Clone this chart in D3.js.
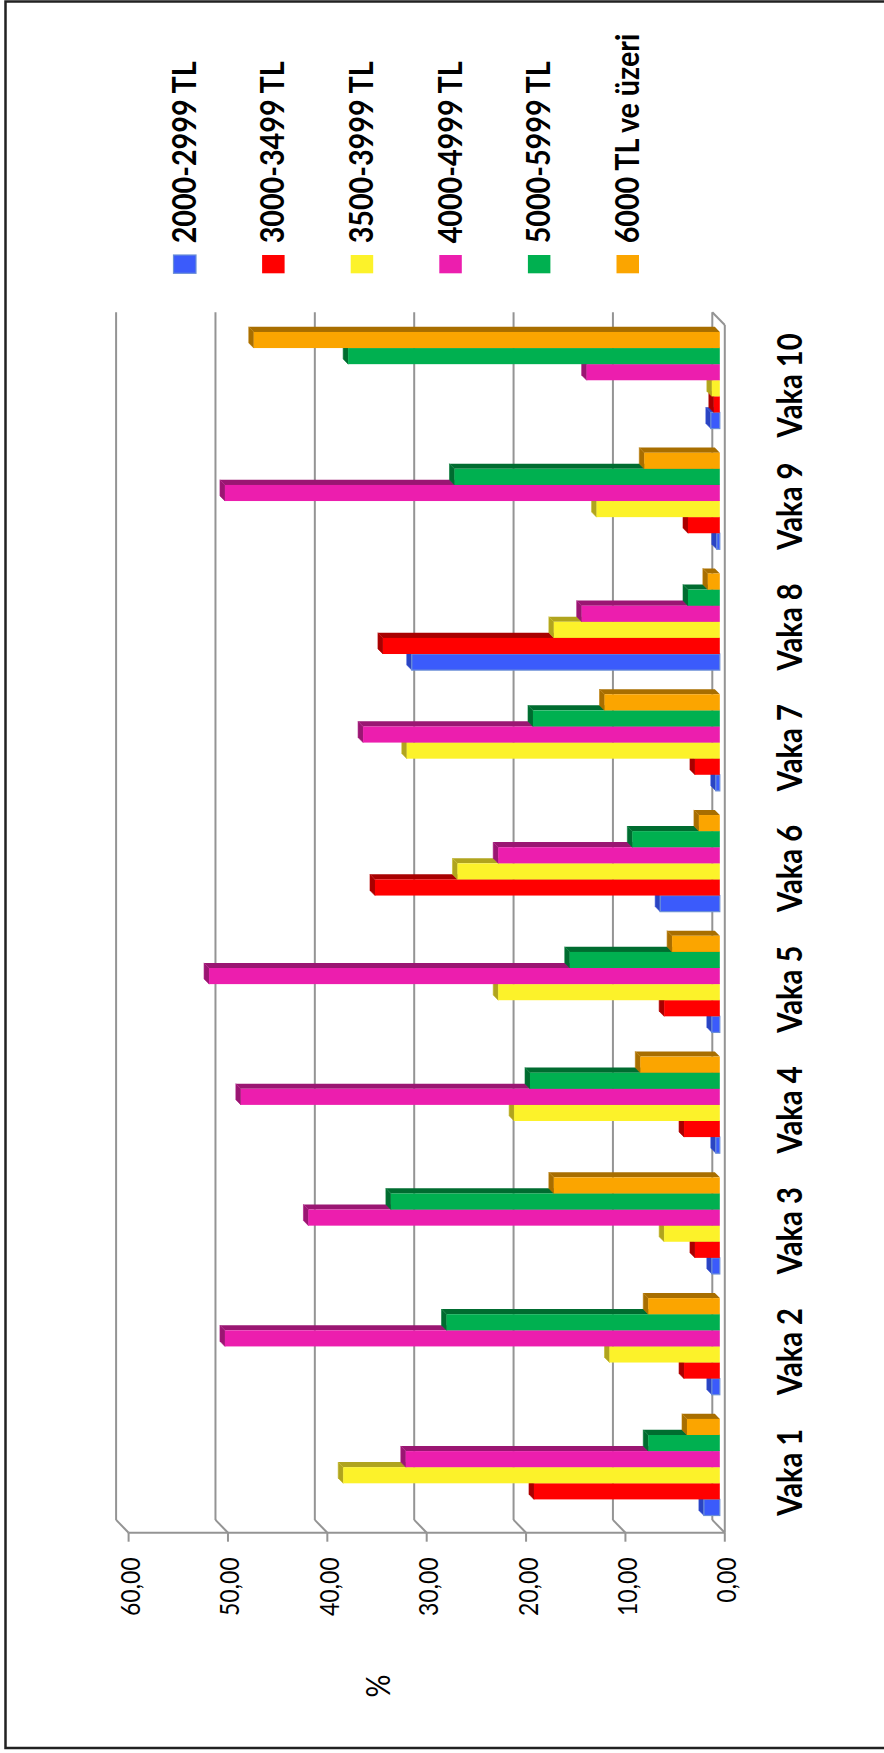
<!DOCTYPE html>
<html>
<head>
<meta charset="utf-8">
<script src="https://cdn.jsdelivr.net/npm/d3@7"></script>
<style>
  html, body { margin: 0; padding: 0; background: #ffffff; }
  svg { display: block; }
  text { font-family: Lato, "Open Sans", "DejaVu Sans", sans-serif; fill: #000; }
</style>
</head>
<body>
<svg id="chart" width="884" height="1753"></svg>
<script>
// ---- data -------------------------------------------------------------
const categories = ["Vaka 1", "Vaka 2", "Vaka 3", "Vaka 4", "Vaka 5",
                    "Vaka 6", "Vaka 7", "Vaka 8", "Vaka 9", "Vaka 10"];

const seriesNames = ["2000-2999 TL", "3000-3499 TL", "3500-3999 TL",
                     "4000-4999 TL", "5000-5999 TL", "6000 TL ve üzeri"];

const inc2000 = [1.6, 0.8, 0.8, 0.4, 0.8, 6.0, 0.4, 31.0, 0.3, 0.9];
const inc3000 = [18.7, 3.6, 2.5, 3.6, 5.6, 34.7, 2.5, 33.9, 3.2, 0.6];
const inc3500 = [37.9, 11.1, 5.6, 20.7, 22.3, 26.4, 31.5, 16.7, 12.4, 0.8];
const inc4000 = [31.6, 49.8, 41.4, 48.2, 51.4, 22.3, 35.9, 13.9, 49.8, 13.4];
const inc5000 = [7.2, 27.5, 33.1, 19.1, 15.1, 8.8, 18.8, 3.2, 26.7, 37.4];
const inc6000 = [3.3, 7.2, 16.7, 8.0, 4.8, 2.1, 11.6, 1.2, 7.6, 46.9];

const seriesValues = [inc2000, inc3000, inc3500, inc4000, inc5000, inc6000];

const yTicks = [0, 10, 20, 30, 40, 50, 60];
const yTickLabels = ["0,00", "10,00", "20,00", "30,00", "40,00", "50,00", "60,00"];
const axisTitle = "%";

// ---- styling ----------------------------------------------------------
const faceColors = ["#3b5bfb", "#ff0000", "#fcf22a", "#ec1eae", "#00b050", "#fba500"];
const sideColors = ["#2a44c2", "#a80000", "#b0a41e", "#9a1672", "#006c30", "#a86e00"];
const edgeColors = ["#6b8fd6", "none", "none", "none", "none", "none"];
const legendColors = ["#3b5bfb", "#ff0000", "#fcf22a", "#ec1eae", "#00b050", "#fba500"];

const gridColor = "#949494";
const SQ = 0.87;          // horizontal squeeze applied to every label

// ---- layout -----------------------------------------------------------
const W = 884, H = 1753;
const svg = d3.select("#chart");

// outer frame
svg.append("rect")
  .attr("x", 5.5).attr("y", 1.5)
  .attr("width", W + 10).attr("height", H - 6.5)
  .attr("fill", "none").attr("stroke", "#222").attr("stroke-width", 2.5);

// The chart is built as an upright column chart (H wide, W tall)
// and then turned a quarter turn counter-clockwise.
const g = svg.append("g").attr("transform", `translate(0,${H}) rotate(-90)`);

const plot = { left: 220.3, right: 1428, top: 128.6, bottom: 724.8 };
const depth = { du: 12.8, dv: -12.5 };   // oblique offset of the back wall
const barFront = 0.4, barBack = 0.8;      // bar slab position inside the depth

const x = d3.scaleBand().domain(categories)
  .range([plot.left, plot.right]).paddingInner(0.2).paddingOuter(0.1);
const xs = d3.scaleBand().domain(d3.range(seriesNames.length))
  .range([0, x.bandwidth()]).padding(0);
const y = d3.scaleLinear().domain([0, 60]).range([plot.bottom, plot.top]);

const pts = arr => arr.map(p => p.join(",")).join(" ");

// ---- walls, gridlines and axis -----------------------------------------
const walls = g.append("g").attr("fill", "none")
  .attr("stroke", gridColor).attr("stroke-width", 2);

// back wall gridlines
walls.selectAll("line.grid").data(yTicks).join("line")
  .attr("class", "grid")
  .attr("x1", plot.left + depth.du).attr("x2", plot.right + depth.du)
  .attr("y1", d => y(d) + depth.dv).attr("y2", d => y(d) + depth.dv);

// side wall diagonals
walls.selectAll("line.side").data(yTicks).join("line")
  .attr("class", "side")
  .attr("x1", plot.left).attr("x2", plot.left + depth.du)
  .attr("y1", d => y(d)).attr("y2", d => y(d) + depth.dv);

// value axis line and tick marks
walls.append("line")
  .attr("x1", plot.left).attr("x2", plot.left)
  .attr("y1", y(60)).attr("y2", y(0));
walls.selectAll("line.tick").data(yTicks).join("line")
  .attr("class", "tick")
  .attr("x1", plot.left - 9).attr("x2", plot.left)
  .attr("y1", d => y(d)).attr("y2", d => y(d));

// floor front edge and its far corner
walls.append("line")
  .attr("x1", plot.left).attr("x2", plot.right)
  .attr("y1", y(0)).attr("y2", y(0));
walls.append("line")
  .attr("x1", plot.right).attr("x2", plot.right + depth.du)
  .attr("y1", y(0)).attr("y2", y(0) + depth.dv);

// ---- bars ---------------------------------------------------------------
const bdu = (barBack - barFront) * depth.du;
const bdv = (barBack - barFront) * depth.dv;

const bars = [];
categories.forEach((c, ci) => {
  seriesValues.forEach((vals, si) => {
    bars.push({ cat: c, s: si, value: vals[ci] });
  });
});

const barG = g.append("g");
bars.forEach(b => {
  const u0 = x(b.cat) + xs(b.s) + barFront * depth.du;
  const u1 = u0 + xs.bandwidth();
  const vTop = y(b.value) + barFront * depth.dv;
  const vBase = y(0) + barFront * depth.dv;
  const grp = barG.append("g").attr("class", "bar");

  // right side face
  grp.append("polygon")
    .attr("points", pts([[u1, vTop], [u1 + bdu, vTop + bdv], [u1 + bdu, vBase + bdv], [u1, vBase]]))
    .attr("fill", sideColors[b.s]);
  // top face
  grp.append("polygon")
    .attr("points", pts([[u0, vTop], [u0 + bdu, vTop + bdv], [u1 + bdu, vTop + bdv], [u1, vTop]]))
    .attr("fill", sideColors[b.s])
    .attr("stroke", d3.color(sideColors[b.s]).brighter(0.3)).attr("stroke-width", 0.6);
  // front face
  grp.append("rect")
    .attr("x", u0).attr("y", vTop)
    .attr("width", u1 - u0).attr("height", vBase - vTop)
    .attr("fill", faceColors[b.s])
    .attr("stroke", edgeColors[b.s]).attr("stroke-width", 1.2);
});

// ---- text helpers -------------------------------------------------------
function label(parent, u, v, str, opts) {
  return parent.append("text")
    .attr("transform", `translate(${u},${v}) scale(${SQ},1)`)
    .attr("text-anchor", opts.anchor || "start")
    .attr("font-size", opts.size)
    .attr("font-weight", opts.weight || "normal")
    .text(str);
}

// value axis labels
yTicks.forEach((t, i) => {
  label(g, 195.7, y(t) + 11.5, yTickLabels[i], { anchor: "end", size: 26.5 });
});

// axis title
label(g, 67, 390, axisTitle, { anchor: "middle", size: 33 });

// category labels
categories.forEach(c => {
  label(g, x(c) + x.bandwidth() / 2, 801.7, c, { anchor: "middle", size: 33.5, weight: "bold" });
});

// ---- legend -------------------------------------------------------------
const legend = g.append("g");
seriesNames.forEach((name, i) => {
  const v0 = 173.5 + i * 88.6;
  legend.append("rect")
    .attr("x", 1479.7).attr("y", v0)
    .attr("width", 18.3).attr("height", 22.5)
    .attr("fill", legendColors[i])
    .attr("stroke", edgeColors[i]).attr("stroke-width", 1.2);
  label(legend, 1509.7, v0 + 22.3, name, { anchor: "start", size: 33, weight: "bold" });
});
</script>
</body>
</html>
